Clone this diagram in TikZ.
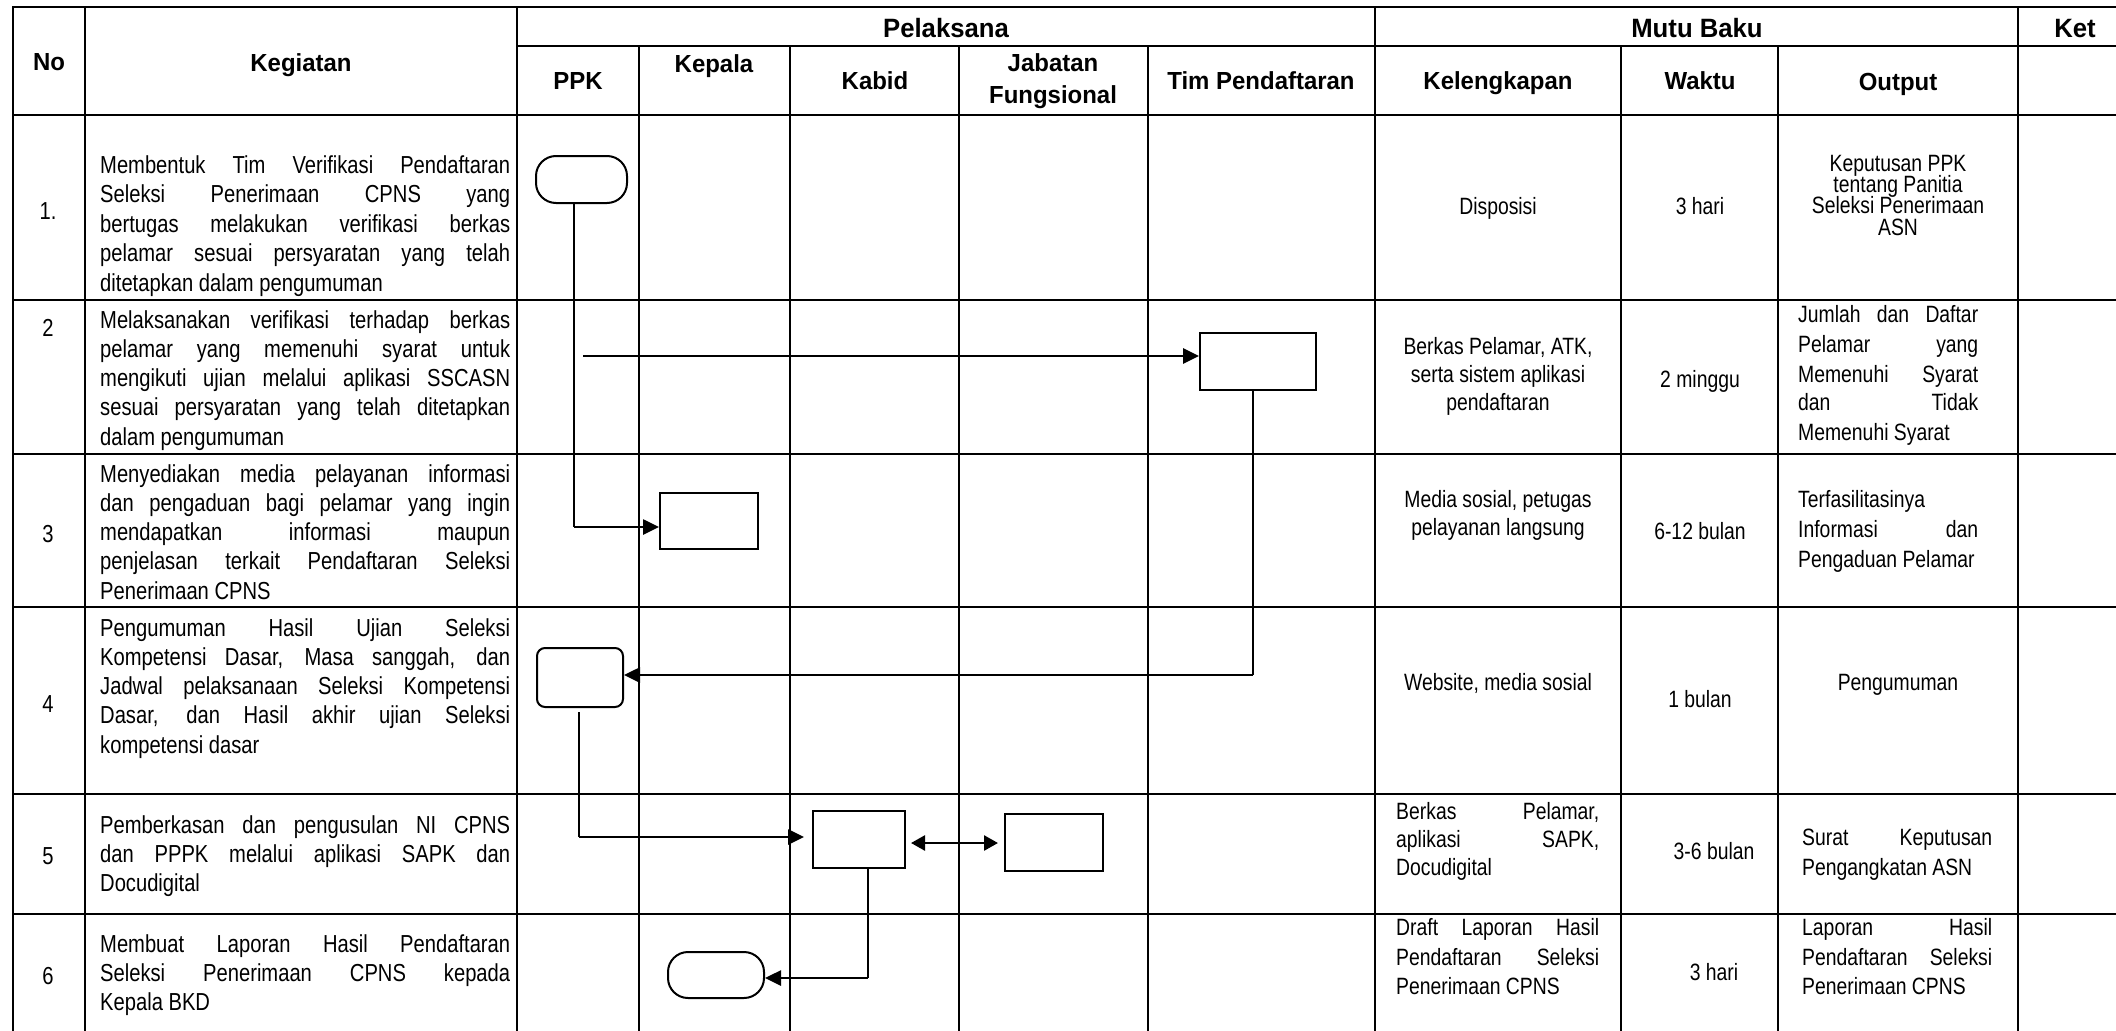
\documentclass[tikz,border=0pt]{standalone}
\usepackage{fontspec}
\setmainfont{Liberation Sans}
\newfontfamily\FamBody{Liberation Sans}[FakeStretch=0.82]
\newfontfamily\FamHead{Liberation Sans}[FakeStretch=0.97]
\usetikzlibrary{arrows.meta,calc}
\newcommand\FntBody{\FamBody\fontsize{24.6}{29}\selectfont}
\newcommand\FntMutu{\FamBody\fontsize{23.6}{28}\selectfont}
\newcommand\FntHead{\FamHead\bfseries\fontsize{24.7}{30}\selectfont}
\newcommand\FntTop{\FamHead\bfseries\fontsize{26.5}{30}\selectfont}
\newcommand\KJ[3]{\node[bt, anchor=base west] (#1) at (100,#2) {\makebox[410pt][s]{#3}};}
\newcommand\KL[3]{\node[bt, anchor=base west] (#1) at (100,#2) {#3};}
\newcommand\MJ[5]{\node[mt, anchor=base west] (#1) at (#2,#3) {\makebox[#4pt][s]{#5}};}
\newcommand\ML[4]{\node[mt, anchor=base west] (#1) at (#2,#3) {#4};}
\newcommand\MC[4]{\node[mt, anchor=base] (#1) at (#2,#3) {#4};}
\newcommand\HC[4]{\node[ht, anchor=base] (#1) at (#2,#3) {#4};}
\newcommand\TC[4]{\node[ht, font=\FntTop, anchor=base] (#1) at (#2,#3) {#4};}
\tikzset{
  bt/.style={inner sep=0pt, font=\FntBody},
  mt/.style={inner sep=0pt, font=\FntMutu},
  ht/.style={inner sep=0pt, font=\FntHead},
  hline/.style={line width=2.6pt, line cap=rect},
  vline/.style={line width=2.2pt, line cap=rect},
  procbox/.style={draw, line width=2pt, inner sep=0pt},
  termbox/.style={procbox, rounded corners=20pt},
  flowv/.style={line width=1.8pt},
  flowarr/.style={line width=2.6pt, -{Triangle[length=16pt,width=15pt]}},
  flowdarr/.style={line width=2.6pt, {Triangle[length=14pt,width=15pt]}-{Triangle[length=14pt,width=15pt]}},
}
\begin{document}
\begin{tikzpicture}[x=1pt,y=-1pt]
\fill[white] (0,0) rectangle (2116,1030);
\useasboundingbox (0,0) rectangle (2116,1030);

% ---- table grid ----
\foreach \yy in {7,115,300,454,607,794,914} {\draw[hline] (13,\yy) -- (2116,\yy);}
\draw[hline] (517,46) -- (2116,46);
\foreach \xx in {13,85,517,1375,2018} {\draw[vline] (\xx,7) -- (\xx,1030);}
\foreach \xx in {639,790,959,1148,1621,1778} {\draw[vline] (\xx,46) -- (\xx,1030);}

% ---- headers ----
\HC{hNo}{49}{71}{No}
\HC{hKeg}{301}{72}{Kegiatan}
\TC{hPel}{946}{38}{Pelaksana}
\HC{hPPK}{578}{90}{PPK}
\HC{hKep}{714}{73}{Kepala}
\HC{hKab}{875}{90}{Kabid}
\HC{hJab}{1053}{72}{Jabatan}
\HC{hFun}{1053}{104}{Fungsional}
\HC{hTim}{1261}{90}{Tim Pendaftaran}
\TC{hMutu}{1697}{38}{Mutu Baku}
\TC{hKet}{2075}{38}{Ket}
\HC{hKel}{1498}{90}{Kelengkapan}
\HC{hWak}{1700}{90}{Waktu}
\HC{hOut}{1898}{91}{Output}

% ---- numbers ----
\node[bt, anchor=base] (n1) at (48,219) {1.};
\node[bt, anchor=base] (n2) at (48,336) {2};
\node[bt, anchor=base] (n3) at (48,542) {3};
\node[bt, anchor=base] (n4) at (48,712) {4};
\node[bt, anchor=base] (n5) at (48,864) {5};
\node[bt, anchor=base] (n6) at (48,984) {6};

% ---- Kegiatan ----
\KJ{k1a}{173}{Membentuk Tim Verifikasi Pendaftaran}
\KJ{k1b}{202.5}{Seleksi Penerimaan CPNS yang}
\KJ{k1c}{232}{bertugas melakukan verifikasi berkas}
\KJ{k1d}{261.5}{pelamar sesuai persyaratan yang telah}
\KL{k1e}{291}{ditetapkan dalam pengumuman}

\KJ{k2a}{328}{Melaksanakan verifikasi terhadap berkas}
\KJ{k2b}{357.3}{pelamar yang memenuhi syarat untuk}
\KJ{k2c}{386.6}{mengikuti ujian melalui aplikasi SSCASN}
\KJ{k2d}{415.9}{sesuai persyaratan yang telah ditetapkan}
\KL{k2e}{445.2}{dalam pengumuman}

\KJ{k3a}{482}{Menyediakan media pelayanan informasi}
\KJ{k3b}{511.3}{dan pengaduan bagi pelamar yang ingin}
\KJ{k3c}{540.6}{mendapatkan informasi maupun}
\KJ{k3d}{569.9}{penjelasan terkait Pendaftaran Seleksi}
\KL{k3e}{599.2}{Penerimaan CPNS}

\KJ{k4a}{636}{Pengumuman Hasil Ujian Seleksi}
\KJ{k4b}{665.3}{Kompetensi Dasar, Masa sanggah, dan}
\KJ{k4c}{694.6}{Jadwal pelaksanaan Seleksi Kompetensi}
\KJ{k4d}{723.9}{Dasar, dan Hasil akhir ujian Seleksi}
\KL{k4e}{753.2}{kompetensi dasar}

\KJ{k5a}{833}{Pemberkasan dan pengusulan NI CPNS}
\KJ{k5b}{862.3}{dan PPPK melalui aplikasi SAPK dan}
\KL{k5c}{891.6}{Docudigital}

\KJ{k6a}{952}{Membuat Laporan Hasil Pendaftaran}
\KJ{k6b}{981.3}{Seleksi Penerimaan CPNS kepada}
\KL{k6c}{1010.6}{Kepala BKD}

% ---- Mutu Baku ----
\MC{m1a}{1498}{214}{Disposisi}
\MC{m1w}{1700}{214}{3 hari}
\MC{m1o1}{1898}{171}{Keputusan PPK}
\MC{m1o2}{1898}{192}{tentang Panitia}
\MC{m1o3}{1898}{213}{Seleksi Penerimaan}
\MC{m1o4}{1898}{235}{ASN}

\MC{m2a}{1498}{354}{Berkas Pelamar, ATK,}
\MC{m2b}{1498}{382}{serta sistem aplikasi}
\MC{m2c}{1498}{410}{pendaftaran}
\MC{m2w}{1700}{387}{2 minggu}
\MJ{m2o1}{1798}{322}{180}{Jumlah dan Daftar}
\MJ{m2o2}{1798}{352}{180}{Pelamar yang}
\MJ{m2o3}{1798}{382}{180}{Memenuhi Syarat}
\MJ{m2o4}{1798}{410}{180}{dan Tidak}
\ML{m2o5}{1798}{440}{Memenuhi Syarat}

\MC{m3a}{1498}{507}{Media sosial, petugas}
\MC{m3b}{1498}{535}{pelayanan langsung}
\MC{m3w}{1700}{539}{6-12 bulan}
\ML{m3o1}{1798}{507}{Terfasilitasinya}
\MJ{m3o2}{1798}{537}{180}{Informasi dan}
\ML{m3o3}{1798}{567}{Pengaduan Pelamar}

\MC{m4a}{1498}{690}{Website, media sosial}
\MC{m4w}{1700}{707}{1 bulan}
\MC{m4o}{1898}{690}{Pengumuman}

\MJ{m5a1}{1396}{819}{203}{Berkas Pelamar,}
\MJ{m5a2}{1396}{847}{203}{aplikasi SAPK,}
\ML{m5a3}{1396}{875}{Docudigital}
\MC{m5w}{1714}{859}{3-6 bulan}
\MJ{m5o1}{1802}{845}{190}{Surat Keputusan}
\ML{m5o2}{1802}{875}{Pengangkatan ASN}

\MJ{m6a1}{1396}{935}{203}{Draft Laporan Hasil}
\MJ{m6a2}{1396}{965}{203}{Pendaftaran Seleksi}
\ML{m6a3}{1396}{994}{Penerimaan CPNS}
\MC{m6w}{1714}{980}{3 hari}
\MJ{m6o1}{1802}{935}{190}{Laporan Hasil}
\MJ{m6o2}{1802}{965}{190}{Pendaftaran Seleksi}
\ML{m6o3}{1802}{994}{Penerimaan CPNS}

% ---- flow shapes ----
\node[termbox, minimum width=91pt, minimum height=47pt] (t1) at (581.5,179.5) {};
\node[procbox, minimum width=116pt, minimum height=57pt] (tim2) at (1258,361.5) {};
\node[procbox, minimum width=98pt, minimum height=56pt] (kep3) at (709,521) {};
\node[procbox, rounded corners=8pt, minimum width=86pt, minimum height=59pt] (ppk4) at (580,677.5) {};
\node[procbox, minimum width=92pt, minimum height=57pt] (kab5) at (859,839.5) {};
\node[procbox, minimum width=98pt, minimum height=57pt] (jab5) at (1054,842.5) {};
\node[termbox, minimum width=96pt, minimum height=46pt] (kep6) at (716,975) {};

% ---- connectors ----
\coordinate (v1) at (574,527);
\draw[flowv] (t1.south -| v1) -- (v1);
\draw[flowarr] (v1) -- (v1 -| kep3.west);

\coordinate (a2) at (583,356);
\draw[flowarr] (a2) -- (a2 -| tim2.west);

\coordinate (v2) at (1253,675);
\draw[flowv] (tim2.south -| v2) -- (v2);
\draw[flowarr] (v2) -- (v2 -| ppk4.east);

\coordinate (v3) at (579,837);
\draw[flowv] ($(ppk4.south -| v3)+(0,4)$) -- (v3);
\draw[flowarr, shorten >=8pt] (v3) -- (v3 -| kab5.west);

\coordinate (d5) at (0,843);
\draw[flowdarr, shorten <=5pt, shorten >=6pt] (kab5.east |- d5) -- (jab5.west |- d5);

\coordinate (v4) at (868,978);
\draw[flowv] (kab5.south -| v4) -- (v4);
\draw[flowarr] (v4) -- (v4 -| kep6.east);
\end{tikzpicture}
\end{document}
